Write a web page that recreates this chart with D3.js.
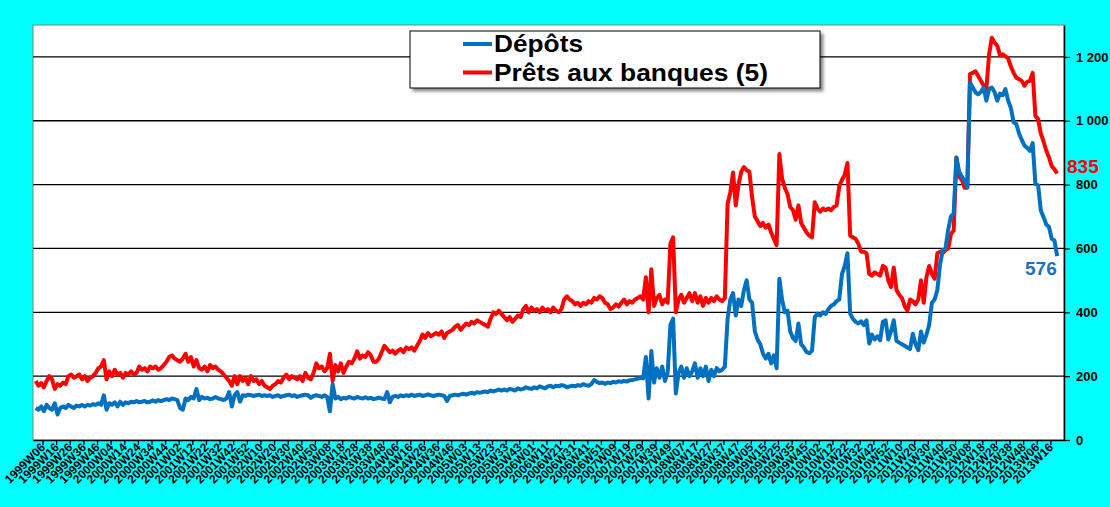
<!DOCTYPE html>
<html>
<head>
<meta charset="utf-8">
<script src="https://cdn.jsdelivr.net/npm/d3@7"></script>
<style>
  body { margin: 0; background: #00ffff; }
  svg { display: block; font-family: "Liberation Sans", Arial, sans-serif; }
</style>
</head>
<body>
<div id="chart"></div>
<script>
// tick labels on the category axis (one every 10 weeks, from 1999W06)
const tickLabels = [
  "1999W06","1999W16","1999W26","1999W36","1999W46",
  "2000W04","2000W14","2000W24","2000W34","2000W44",
  "2001W02","2001W12","2001W22","2001W32","2001W42","2001W52",
  "2002W10","2002W20","2002W30","2002W40","2002W50",
  "2003W08","2003W18","2003W28","2003W38","2003W48",
  "2004W06","2004W16","2004W26","2004W36","2004W46",
  "2005W03","2005W13","2005W23","2005W33","2005W43",
  "2006W01","2006W11","2006W21","2006W31","2006W41","2006W51",
  "2007W09","2007W19","2007W29","2007W39","2007W49",
  "2008W07","2008W17","2008W27","2008W37","2008W47",
  "2009W05","2009W15","2009W25","2009W35","2009W45",
  "2010W02","2010W12","2010W22","2010W32","2010W42","2010W52",
  "2011W10","2011W20","2011W30","2011W40","2011W50",
  "2012W08","2012W18","2012W28","2012W38","2012W48",
  "2013W06","2013W16"
];
const yTicks = [0, 200, 400, 600, 800, 1000, 1200];

// series read every second week, first point = 1999W01 (week -5 from 1999W06)
const firstWeek = -5;
const weekStep = 2;

const prets = [
  185,170,178,165,185,200,190,160,175,170,
  180,175,200,205,195,200,205,190,200,185,
  195,200,210,225,230,250,190,215,200,220,
  205,210,195,210,205,215,205,210,230,220,
  225,215,230,225,230,220,225,235,245,260,
  265,255,250,245,255,270,245,260,230,250,
  225,220,230,215,235,225,230,220,215,205,
  195,185,170,200,175,200,185,195,175,200,
  185,190,175,185,170,165,160,170,175,185,
  180,195,205,190,200,195,190,200,185,210,
  195,190,210,240,225,230,215,225,270,185,
  235,215,240,210,230,245,240,255,278,255,
  265,260,275,265,245,245,255,275,295,285,
  275,280,270,280,285,275,290,285,290,280,
  295,310,330,320,335,325,330,335,330,340,
  320,335,340,345,355,360,345,355,365,360,
  370,365,375,370,365,360,355,380,400,395,
  405,395,385,375,385,370,380,390,385,410,
  420,400,415,405,410,400,415,405,410,400,
  415,405,400,410,440,450,440,435,425,430,
  420,430,425,435,430,445,440,450,445,430,
  425,410,415,425,418,430,440,425,435,430,
  440,445,450,440,510,400,535,420,445,455,
  425,440,430,615,635,400,440,455,430,445,
  460,435,460,430,450,420,445,430,445,435,
  450,440,435,445,740,775,838,735,800,840,
  855,845,840,760,700,685,670,680,665,675,
  650,630,610,896,820,790,770,730,720,690,
  735,680,665,650,640,635,745,725,715,725,
  720,725,720,730,735,795,815,830,868,640,
  635,630,615,590,590,585,520,515,525,520,
  515,545,540,500,479,540,470,455,445,420,
  405,440,435,425,440,500,430,510,545,520,
  505,585,590,585,595,600,645,656,885,825,
  815,790,790,1146,1150,1155,1140,1125,1110,1100,
  1208,1260,1245,1235,1205,1208,1202,1195,1170,1150,
  1135,1130,1125,1110,1122,1125,1150,1015,1005,960,
  935,906,885,858,848,835
];

const depots = [
  100,95,105,90,110,100,95,115,80,100,
  105,100,110,105,100,108,105,110,105,110,
  108,112,110,115,110,140,95,115,110,118,
  105,120,110,118,115,120,118,122,118,120,
  122,118,120,124,120,125,122,125,128,125,
  130,128,125,100,95,130,125,135,130,160,
  125,135,130,132,128,130,135,130,128,125,
  130,150,105,140,150,120,140,138,142,140,
  138,140,142,138,140,138,140,135,138,140,
  135,138,140,142,138,140,135,138,140,142,
  140,132,138,140,138,135,140,135,90,175,
  130,135,128,132,130,135,132,130,135,132,
  130,134,130,132,128,130,133,130,128,150,
  118,135,138,135,140,137,140,138,142,138,
  140,142,138,140,143,140,138,140,142,140,
  138,122,138,140,142,140,143,145,142,145,
  148,145,150,148,150,152,150,155,152,155,
  158,155,158,155,160,158,155,162,158,160,
  165,162,160,165,162,168,165,162,168,170,
  165,170,168,172,170,165,168,170,168,172,
  170,175,172,170,175,188,182,178,180,176,
  180,178,182,180,184,182,185,183,187,188,
  190,192,195,193,260,130,279,180,225,195,
  230,185,210,360,380,146,210,230,195,225,
  200,215,240,195,225,200,230,185,220,200,
  225,215,220,230,380,440,460,390,440,420,
  470,500,440,430,340,315,300,270,255,270,
  240,265,225,505,440,400,405,340,320,310,
  365,300,290,275,272,280,385,395,390,400,
  395,410,420,425,435,440,520,545,585,396,
  380,370,365,372,360,375,302,330,315,325,
  312,370,375,315,340,375,310,305,300,295,
  290,285,333,300,281,340,305,330,360,430,
  440,470,550,595,600,660,700,710,885,840,
  825,812,792,1120,1104,1089,1083,1090,1104,1063,
  1100,1104,1090,1063,1085,1080,1099,1063,1040,995,
  990,960,940,922,915,906,930,802,798,719,
  698,675,667,630,625,576
];

const series = [
  { name: "Prêts aux banques (5)", values: prets, color: "#ff0000" },
  { name: "Dépôts", values: depots, color: "#0070c0" }
];

// chart dimensions
const width = 1110, height = 507;
const margin = { top: 25, right: 46, bottom: 67, left: 33 };
const plotW = width - margin.left - margin.right;
const plotH = height - margin.top - margin.bottom;

const x = d3.scaleLinear()
  .domain([-7, 750])
  .range([margin.left, margin.left + plotW]);

const y = d3.scaleLinear()
  .domain([0, 1300])
  .range([margin.top + plotH, margin.top]);

const fr = d3.formatLocale({ decimal: ",", thousands: "\u00a0", grouping: [3], currency: ["", ""] });
const fmt = fr.format(",");

const svg = d3.select("#chart")
  .append("svg")
  .attr("width", width)
  .attr("height", height);

const defs = svg.append("defs");
defs.append("filter")
  .attr("id", "shadow")
  .attr("x", "-10%").attr("y", "-20%").attr("width", "130%").attr("height", "160%")
  .append("feDropShadow")
  .attr("dx", 3).attr("dy", 3).attr("stdDeviation", 1.5)
  .attr("flood-color", "#000").attr("flood-opacity", 0.45);

// plot area
svg.append("rect")
  .attr("x", margin.left).attr("y", margin.top)
  .attr("width", plotW).attr("height", plotH)
  .attr("fill", "#fff")
  .attr("stroke", "#808080");

// gridlines
svg.append("g")
  .selectAll("line")
  .data(yTicks.filter(d => d > 0))
  .join("line")
  .attr("x1", margin.left).attr("x2", margin.left + plotW)
  .attr("y1", d => y(d)).attr("y2", d => y(d))
  .attr("stroke", "#000")
  .attr("stroke-width", 1.3);

// x axis
const xAxis = svg.append("g")
  .attr("transform", `translate(0,${margin.top + plotH})`)
  .call(d3.axisBottom(x)
    .tickValues(tickLabels.map((d, i) => i * 10))
    .tickFormat((d, i) => tickLabels[i])
    .tickSize(5)
    .tickSizeOuter(0));
xAxis.select(".domain").attr("stroke", "#000").attr("stroke-width", 1.3);
xAxis.selectAll(".tick line").attr("stroke", "#000").attr("stroke-width", 1.3);
xAxis.selectAll(".tick text")
  .attr("x", 0).attr("y", 0).attr("dy", 0)
  .attr("text-anchor", "end")
  .attr("transform", "translate(3,8) rotate(-45)")
  .attr("fill", "#000")
  .style("font-size", "12px")
  .style("font-weight", "bold");

// y axis on the right
const yAxis = svg.append("g")
  .attr("transform", `translate(${margin.left + plotW},0)`)
  .call(d3.axisRight(y)
    .tickValues(yTicks)
    .tickFormat(fmt)
    .tickSize(6)
    .tickPadding(6)
    .tickSizeOuter(0));
yAxis.select(".domain").attr("stroke", "#000").attr("stroke-width", 1.5);
yAxis.selectAll(".tick line").attr("stroke", "#000").attr("stroke-width", 1.3);
yAxis.selectAll(".tick text")
  .attr("fill", "#000")
  .style("font-size", "13px")
  .style("font-weight", "bold");

// lines
const line = d3.line()
  .x((d, i) => x(firstWeek + i * weekStep))
  .y(d => y(d));

svg.append("g")
  .selectAll("path")
  .data(series)
  .join("path")
  .attr("fill", "none")
  .attr("stroke", d => d.color)
  .attr("stroke-width", 4)
  .attr("stroke-linejoin", "round")
  .attr("d", d => line(d.values));

// last values
svg.append("text")
  .attr("x", 1067).attr("y", 173)
  .attr("fill", "#ff0000")
  .style("font-size", "19px").style("font-weight", "bold")
  .text(prets[prets.length - 1]);
svg.append("text")
  .attr("x", 1025).attr("y", 275)
  .attr("fill", "#1f70c1")
  .style("font-size", "19px").style("font-weight", "bold")
  .text(depots[depots.length - 1]);

// legend
const legend = svg.append("g");
legend.append("rect")
  .attr("x", 410).attr("y", 31)
  .attr("width", 410).attr("height", 57)
  .attr("fill", "#fff")
  .attr("stroke", "#000")
  .attr("filter", "url(#shadow)");

const legendItems = [
  { name: "Dépôts", color: "#0070c0", y: 44, len: 89 },
  { name: "Prêts aux banques (5)", color: "#ff0000", y: 72.5, len: 274 }
];
legendItems.forEach(d => {
  legend.append("line")
    .attr("x1", 463).attr("x2", 492)
    .attr("y1", d.y).attr("y2", d.y)
    .attr("stroke", d.color)
    .attr("stroke-width", 4);
  legend.append("text")
    .attr("x", 494).attr("y", d.y + 8)
    .attr("textLength", d.len)
    .attr("lengthAdjust", "spacingAndGlyphs")
    .style("font-size", "24px").style("font-weight", "bold")
    .text(d.name);
});
</script>
</body>
</html>
